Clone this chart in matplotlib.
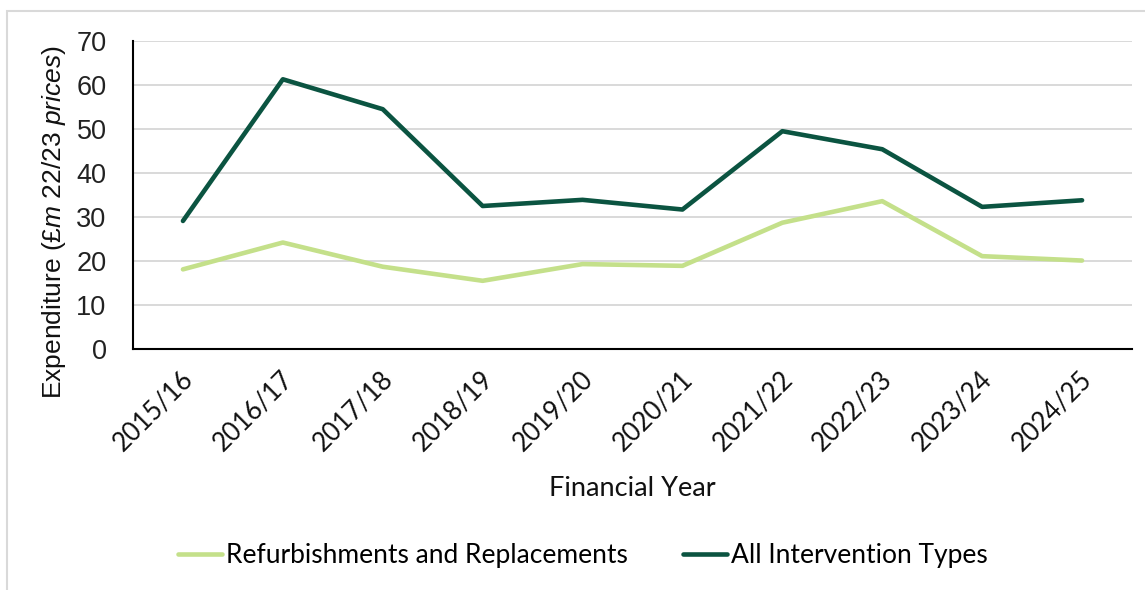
import matplotlib
matplotlib.use("Agg")
import matplotlib.pyplot as plt
from matplotlib.patches import Rectangle
from matplotlib.lines import Line2D
from matplotlib.transforms import ScaledTranslation

years = ["2015/16", "2016/17", "2017/18", "2018/19", "2019/20",
         "2020/21", "2021/22", "2022/23", "2023/24", "2024/25"]
refurb_replace = [18.1, 24.2, 18.7, 15.5, 19.3, 18.9, 28.7, 33.6, 21.1, 20.1]
all_interventions = [29.1, 61.3, 54.5, 32.5, 33.9, 31.7, 49.5, 45.4, 32.3, 33.8]
y_ticks = [0, 10, 20, 30, 40, 50, 60, 70]

LIGHT = "#C4E08A"
DARK = "#0B5441"
GRID = "#D9D9D9"
label_font = "Lato"
num_font = "Liberation Sans"

plt.rcParams["mathtext.fontset"] = "custom"
plt.rcParams["mathtext.it"] = "Liberation Sans:italic"
plt.rcParams["mathtext.rm"] = "Liberation Sans"

W, H = 1145, 590
fig = plt.figure(figsize=(W / 100, H / 100), dpi=100)
ax = fig.add_axes([133 / W, 1 - 349 / H, (1132 - 133) / W, (349 - 41) / H])

x = list(range(len(years)))
ax.plot(x, refurb_replace, color=LIGHT, lw=3.3, solid_capstyle="round",
        solid_joinstyle="round", zorder=3)
ax.plot(x, all_interventions, color=DARK, lw=3.3, solid_capstyle="round",
        solid_joinstyle="round", zorder=4)

ax.set_xlim(-0.5, len(years) - 0.5)
ax.set_ylim(0, 70)
ax.set_yticks(y_ticks)
ax.set_yticklabels([str(v) for v in y_ticks], fontsize=19.5,
                   fontfamily=num_font, color="#222222")
ax.set_xticks(x)
ax.set_xticklabels(years, rotation=45, ha="right", va="center",
                   rotation_mode="anchor", fontsize=18.5,
                   fontfamily=label_font, color="#111111")
ax.tick_params(axis="both", length=0)
ax.tick_params(axis="y", pad=19)
ax.tick_params(axis="x", pad=14)
shift = ScaledTranslation(6 / 100, -7 / 100, fig.dpi_scale_trans)
for lbl in ax.get_xticklabels():
    lbl.set_transform(lbl.get_transform() + shift)

ax.grid(axis="y", color=GRID, lw=1.4)
ax.set_axisbelow(True)
for side in ("top", "right"):
    ax.spines[side].set_visible(False)
for side in ("left", "bottom"):
    ax.spines[side].set_color("black")
    ax.spines[side].set_linewidth(1.5)

ax.set_xlabel("Financial Year", fontsize=19.5, fontfamily=label_font,
              color="#111111")
ax.xaxis.set_label_coords(0.5, -(476 - 349) / (349 - 41))
ax.set_ylabel(r"Expenditure $\mathit{(£m\ 22/23\ prices)}$", fontsize=19,
              fontfamily=num_font, color="#111111")
ax.yaxis.set_label_coords(-(133 - 68) / (1132 - 133), (349 - 222) / (349 - 41))

handles = [Line2D([], [], color=LIGHT, lw=3.3, solid_capstyle="round"),
           Line2D([], [], color=DARK, lw=3.3, solid_capstyle="round")]
fig.legend(handles, ["Refurbishments and Replacements", "All Intervention Types"],
           loc="center", bbox_to_anchor=(583 / W, 1 - 556 / H), ncol=2,
           frameon=False, prop={"family": label_font, "size": 19},
           handlelength=1.65, handletextpad=0.15, columnspacing=2.1)

fig.add_artist(Rectangle((7 / W, -0.05), 1.2, 1 - 11 / H + 0.05,
                         transform=fig.transFigure, fill=False,
                         edgecolor=GRID, lw=1.5))

fig.savefig("out.png", dpi=100, facecolor="white")
